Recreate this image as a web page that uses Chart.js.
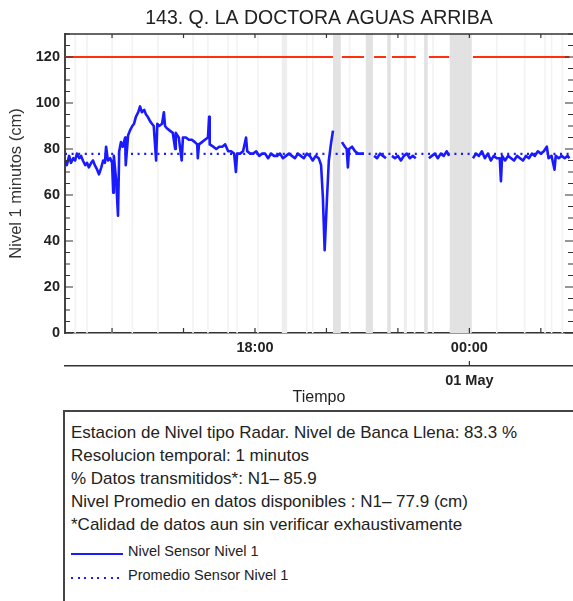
<!DOCTYPE html>
<html>
<head>
<meta charset="utf-8">
<script src="https://cdn.jsdelivr.net/npm/chart.js@4"></script>
<style>
  html, body { margin: 0; padding: 0; background: #fff; overflow: hidden; }
  #wrap { position: relative; width: 573px; height: 601px; }
  canvas { display: block; }
  #caja {
    position: absolute; left: 63px; top: 410px; width: 560px; height: 220px;
    border-left: 2px solid #444; border-top: 2px solid #444;
    font-family: "Liberation Sans", Arial, sans-serif; color: #222;
    padding: 9px 0 0 6px; box-sizing: border-box;
  }
  #caja .t { font-size: 17px; line-height: 23px; white-space: nowrap; }
  #caja .l { font-size: 14.5px; line-height: 24px; white-space: nowrap; display: flex; align-items: center; }
  #caja .sw { width: 52px; height: 2px; margin-right: 5px; position: relative; top: 3px; }
  .solido { background: #1a1aff; }
  .punteado { background: repeating-linear-gradient(to right, #1a1aff 0 2px, transparent 2px 6.6px); }
</style>
</head>
<body>
<div id="wrap">
  <canvas id="grafico" width="573" height="408"></canvas>
  <div id="caja">
    <div class="t">Estacion de Nivel tipo Radar. Nivel de Banca Llena: 83.3 %</div>
    <div class="t">Resolucion temporal: 1 minutos</div>
    <div class="t">% Datos transmitidos*: N1– 85.9</div>
    <div class="t">Nivel Promedio en datos disponibles : N1– 77.9 (cm)</div>
    <div class="t">*Calidad de datos aun sin verificar exhaustivamente</div>
    <div class="l" style="margin-top:3px"><span class="sw solido"></span>Nivel Sensor Nivel 1</div>
    <div class="l"><span class="sw punteado"></span>Promedio Sensor Nivel 1</div>
  </div>
</div>
<script>
// minutos desde 30 Apr 12:00
const minutos = [41, 44, 48, 51, 55, 58, 61, 65, 68, 71, 75, 78, 81, 85, 88, 91, 95, 98, 102, 105,
  108, 110, 113, 117, 120, 122, 123, 127, 130, 132, 135, 138, 142, 143, 147, 150, 154, 157, 160, 164,
  167, 170, 174, 177, 180, 184, 187, 190, 194, 196, 199, 204, 207, 209, 212, 217, 222, 226, 227, 232,
  237, 239, 244, 249, 254, 259, 263, 264, 266, 271, 276, 281, 283, 284, 290, 295, 300, 305, 310, 315,
  320, 325, 328, 330, 335, 340, 345, 347, 352, 357, 362, 367, 372, 377, 382, 387, 392, 397, 402, 407,
  412, 417, 422, 427, 432, 437, 442, 447, 452, 457, 462, 467, 471, 474, 477, 481, 484, 488, 491, 497,
  506, 511, 514, 516, 518, 523, 528, 533, 538, 543, 551, 560, 565, 570, 575, 580, 585, 590, 595, 600,
  605, 610, 615, 620, 625, 630, 640, 652, 657, 662, 667, 672, 677, 682, 686, 706, 726, 731, 736, 741,
  746, 751, 756, 761, 766, 771, 773, 775, 780, 785, 790, 795, 800, 805, 810, 815, 820, 825, 830, 835,
  840, 845, 850, 853, 858, 863, 865, 870, 875, 880, 885, 888];
const nivel = [75, 73, 77, 74, 76, 75, 78, 76, 77, 75, 73, 74, 72, 74, 75, 73, 71, 69, 72, 75,
  74, 81, 75, 76, 74, 61, 77, 66, 51, 79, 83, 81, 85, 73, 86, 88, 90, 91, 94, 96,
  98.5, 96, 97, 95, 94, 92, 91, 90, 75, 91, 90, 91, 96, 90, 89, 88, 87, 80, 87, 85,
  75, 85, 85, 84, 84, 83, 82, 76, 82, 83, 84, 85, 94, 82, 81, 80, 81, 81, 82, 79,
  79, 78, 70, 78, 78, 79, 85, 79, 78, 78, 79, 77, 78, 78, 76, 78, 77, 77, 78, 76,
  77, 78, 77, 76, 78, 77, 76, 78, 77, 75, 77, 76, 73, 59, 36, 59, 75, 83, 88, null,
  83, 81, 80, 72, 80, 81, 79, 78, 78, 78, null, 77, 76, 78, 77, 76, null, 77, 76, 77,
  75, 77, 78, 76, 77, 76, null, 76, 77, 78, 76, 78, 77, 79, 77, null, 76, 78, 77, 79,
  76, 78, 75, 77, 76, 76, 66, 77, 75, 77, 76, 75, 77, 76, 75, 77, 76, 78, 77, 79,
  78, 79, 81, 76, 77, 71, 77, 76, 77, 76, 77, 76];

const bancaLlena = 120;
const promedio = 77.9;
const xMin = 41, xMax = 894;

// huecos de datos (minutos)
const huecosAnchos = [[491, 504], [546, 558], [582, 588], [644, 650], [687, 724]];
const huecosClaros = [[405, 414], [610, 615]];
const huecosFinos = [58, 78, 120, 154, 197, 256, 281, 315, 330, 365, 447, 457, 519, 612, 628, 659, 766, 813, 847, 858, 876];

const ticksX = [120, 240, 360, 480, 600, 720, 840];
const etiquetasX = { 360: '18:00', 720: '00:00' };
const ticksY = [0, 20, 40, 60, 80, 100, 120];

const fuente = '"Liberation Sans", Arial, sans-serif';
const azul = '#1a1aff';

const serie = minutos.map((m, i) => ({ x: m, y: nivel[i] }));
const serieBanca = minutos.map((m, i) => ({ x: m, y: nivel[i] === null ? null : bancaLlena }));

const marcas = {
  id: 'marcas',
  beforeDatasetsDraw(chart) {
    const { ctx, chartArea: a } = chart;
    const x = chart.scales.x;
    ctx.save();
    ctx.beginPath();
    ctx.rect(a.left, a.top, a.right - a.left, a.bottom - a.top);
    ctx.clip();
    ctx.fillStyle = '#f3f3f3';
    huecosFinos.forEach(m => {
      const px = x.getPixelForValue(m);
      ctx.fillRect(px - 0.8, a.top, 1.6, a.bottom - a.top);
    });
    ctx.fillStyle = '#eeeeee';
    huecosClaros.forEach(([s, e]) => {
      const p0 = x.getPixelForValue(s), p1 = x.getPixelForValue(e);
      ctx.fillRect(p0, a.top, p1 - p0, a.bottom - a.top);
    });
    ctx.fillStyle = '#e2e2e2';
    huecosAnchos.forEach(([s, e]) => {
      const p0 = x.getPixelForValue(s), p1 = x.getPixelForValue(e);
      ctx.fillRect(p0, a.top, p1 - p0, a.bottom - a.top);
    });
    ctx.restore();
  },
  afterDraw(chart) {
    const { ctx, chartArea: a } = chart;
    const x = chart.scales.x, y = chart.scales.y, x2 = chart.scales.x2;
    ctx.save();
    ctx.strokeStyle = '#333';
    ctx.lineWidth = 1.5;
    ctx.beginPath();
    ctx.moveTo(a.left, a.top);
    ctx.lineTo(a.right, a.top);
    ctx.stroke();
    ctx.lineWidth = 1.2;
    ctx.beginPath();
    ticksX.forEach(v => {
      const px = x.getPixelForValue(v);
      ctx.moveTo(px, a.bottom); ctx.lineTo(px, a.bottom - 5);
      ctx.moveTo(px, a.top); ctx.lineTo(px, a.top + 4);
    });
    for (let v = 0; v <= 130; v += 5) {
      const py = y.getPixelForValue(v);
      const len = v % 20 === 0 ? 8 : 5;
      ctx.moveTo(a.left, py); ctx.lineTo(a.left + len, py);
      ctx.moveTo(a.right, py); ctx.lineTo(a.right - len, py);
    }
    const p00 = x2.getPixelForValue(720);
    ctx.moveTo(p00, x2.top); ctx.lineTo(p00, x2.top - 5);
    ctx.stroke();
    ctx.restore();
  }
};

new Chart(document.getElementById('grafico'), {
  type: 'line',
  data: {
    datasets: [
      { data: serie, borderColor: azul, borderWidth: 2.6, borderJoinStyle: 'round', pointRadius: 0, spanGaps: false },
      { data: [{ x: xMin, y: promedio }, { x: xMax, y: promedio }], borderColor: azul, borderWidth: 2.2, borderDash: [2, 4.6], pointRadius: 0 },
      { data: serieBanca, borderColor: '#ff3010', borderWidth: 2, pointRadius: 0, spanGaps: false }
    ]
  },
  options: {
    responsive: false,
    animation: false,
    layout: { padding: { left: 0, right: 0, top: 0, bottom: 0 } },
    plugins: {
      legend: { display: false },
      tooltip: { enabled: false },
      title: {
        display: true,
        fullSize: false,
        text: '143. Q. LA DOCTORA AGUAS ARRIBA',
        color: '#222',
        font: { family: fuente, size: 19.5, weight: 'normal' },
        padding: { top: 7, bottom: 3.6 }
      }
    },
    scales: {
      x: {
        type: 'linear', min: xMin, max: xMax, position: 'bottom',
        afterBuildTicks: s => { s.ticks = ticksX.map(v => ({ value: v })); },
        afterFit: s => { s.height = 33; },
        grid: { display: false, drawTicks: false },
        border: { display: true, color: '#333', width: 1.5 },
        ticks: {
          autoSkip: false, maxRotation: 0, padding: 6, color: '#222',
          font: { family: fuente, size: 14.5, weight: 'bold' },
          callback: v => etiquetasX[v] || ''
        }
      },
      x2: {
        type: 'linear', min: xMin, max: xMax, position: 'bottom',
        afterBuildTicks: s => { s.ticks = [{ value: 720 }]; },
        afterFit: s => { s.height = 42; },
        grid: { display: false, drawTicks: false },
        border: { display: true, color: '#333', width: 1.5 },
        ticks: {
          autoSkip: false, maxRotation: 0, padding: 6, color: '#222',
          font: { family: fuente, size: 14.5, weight: 'bold' },
          callback: () => '01 May'
        },
        title: {
          display: true, text: 'Tiempo', color: '#222',
          font: { family: fuente, size: 16, weight: 'normal' },
          padding: { top: 0, bottom: 0.5 }
        }
      },
      y: {
        min: 0, max: 130,
        afterBuildTicks: s => { s.ticks = ticksY.map(v => ({ value: v })); },
        afterFit: s => { s.width = 65; },
        grid: { display: false, drawTicks: false },
        border: { display: true, color: '#444', width: 2 },
        ticks: {
          padding: 5, color: '#222',
          font: { family: fuente, size: 14.5, weight: 'bold' }
        },
        title: {
          display: true, text: 'Nivel 1 minutos (cm)', color: '#333',
          font: { family: fuente, size: 16.5, weight: 'normal' },
          padding: { top: 7, bottom: 0 }
        }
      }
    }
  },
  plugins: [marcas]
});
</script>
</body>
</html>
